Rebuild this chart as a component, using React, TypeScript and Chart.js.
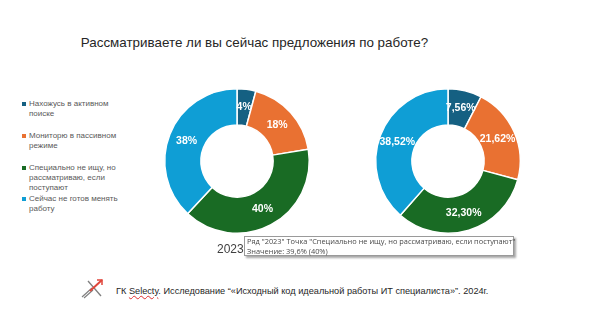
import React, { useEffect, useRef } from "react";
import { Chart, registerables } from "chart.js";

Chart.register(...registerables);

const title = "Рассматриваете ли вы сейчас предложения по работе?";
const categories = [
  "Нахожусь в активном поиске",
  "Мониторю в пассивном режиме",
  "Специально не ищу, но рассматриваю, если поступают",
  "Сейчас не готов менять работу",
];
const legendLines = [
  ["Нахожусь в активном", "поиске"],
  ["Мониторю в пассивном", "режиме"],
  ["Специально не ищу, но", "рассматриваю, если", "поступают"],
  ["Сейчас не готов менять", "работу"],
];
const colors = ["#156082", "#E97132", "#196B24", "#0F9ED5"];
const years = ["2023", "2024"];
const values2023 = [4.2, 18.2, 39.6, 38.0];
const values2024 = [7.56, 21.62, 32.3, 38.52];
const tooltipLines = [
  'Ряд "2023" Точка "Специально не ищу, но рассматриваю, если поступают"',
  "Значение: 39,6% (40%)",
];
const footerPrefix = "ГК ";
const footerBrand = "Selecty";
const footerRest = ". Исследование “«Исходный код идеальной работы ИТ специалиста»”. 2024г.";

function makeLabelPlugin(format: (v: number) => string) {
  return {
    id: "sliceLabels",
    afterDatasetsDraw(chart: any) {
      const ctx = chart.ctx;
      chart.data.datasets.forEach((ds: any, di: number) => {
        const meta = chart.getDatasetMeta(di);
        meta.data.forEach((arc: any, i: number) => {
          const p = arc.tooltipPosition();
          ctx.save();
          ctx.fillStyle = "#ffffff";
          ctx.font = "bold 10.5px 'Liberation Sans', Arial, sans-serif";
          ctx.textAlign = "center";
          ctx.textBaseline = "middle";
          ctx.fillText(format(ds.data[i]), p.x, p.y);
          ctx.restore();
        });
      });
    },
  };
}

function Donut({ values, left, top, format }: any) {
  const ref = useRef<HTMLCanvasElement>(null);
  useEffect(() => {
    const chart = new Chart(ref.current as HTMLCanvasElement, {
      type: "doughnut",
      data: {
        labels: categories,
        datasets: [
          {
            data: values,
            backgroundColor: colors,
            borderColor: "#ffffff",
            borderWidth: 1.5,
          },
        ],
      },
      options: {
        responsive: false,
        animation: false,
        cutout: "50%",
        layout: { padding: 12 },
        events: [],
        plugins: {
          legend: { display: false },
          tooltip: { enabled: false },
        },
      },
      plugins: [makeLabelPlugin(format)],
    });
    return () => chart.destroy();
  }, []);
  return (
    <canvas
      ref={ref}
      width={170}
      height={170}
      style={{ position: "absolute", left, top, width: 170, height: 170 }}
    />
  );
}

const fmt2023 = (v: number) => Math.round(v) + "%";
const fmt2024 = (v: number) => v.toFixed(2).replace(".", ",") + "%";

export default function App() {
  const legendTops = [99, 131, 163, 194];
  return (
    <div
      style={{
        position: "absolute",
        left: 0,
        top: 0,
        width: 602,
        height: 331,
        background: "#ffffff",
        overflow: "hidden",
        fontFamily: "'Liberation Sans', Arial, sans-serif",
      }}
    >
      <div
        style={{
          position: "absolute",
          left: 0,
          width: 509,
          textAlign: "center",
          top: 35,
          fontSize: 13.4,
          lineHeight: "16px",
          color: "#262626",
          whiteSpace: "nowrap",
        }}
      >
        {title}
      </div>

      {legendLines.map((lines, i) => (
        <div key={i} style={{ position: "absolute", left: 22, top: legendTops[i] }}>
          <div
            style={{
              position: "absolute",
              left: 0,
              top: 3,
              width: 4,
              height: 4,
              background: colors[i],
            }}
          />
          <div
            style={{
              position: "absolute",
              left: 7,
              top: 0,
              fontSize: 8,
              lineHeight: "10px",
              color: "#595959",
              whiteSpace: "nowrap",
            }}
          >
            {lines.map((l, j) => (
              <div key={j}>{l}</div>
            ))}
          </div>
        </div>
      ))}

      <Donut values={values2023} left={152} top={76} format={fmt2023} />
      <Donut values={values2024} left={363} top={76} format={fmt2024} />

      <div
        style={{
          position: "absolute",
          left: 217,
          top: 242,
          fontSize: 12,
          lineHeight: "14px",
          color: "#404040",
        }}
      >
        {years[0]}
      </div>
      <div
        style={{
          position: "absolute",
          left: 433,
          top: 242,
          fontSize: 12,
          lineHeight: "14px",
          color: "#404040",
        }}
      >
        {years[1]}
      </div>

      <div
        style={{
          position: "absolute",
          left: 244,
          top: 236,
          width: 270,
          height: 20,
          background: "#ffffff",
          border: "1px solid #9a9a9a",
          boxShadow: "2px 2px 2px rgba(0,0,0,0.35)",
          fontFamily: "'Open Sans', 'DejaVu Sans', sans-serif",
          fontSize: 7.4,
          lineHeight: "9.5px",
          color: "#4a4a4a",
          padding: "0 0 0 2px",
          whiteSpace: "nowrap",
          boxSizing: "border-box",
        }}
      >
        {tooltipLines.map((l, i) => (
          <div key={i}>{l}</div>
        ))}
      </div>

      <svg
        width={26}
        height={22}
        style={{ position: "absolute", left: 79, top: 277 }}
        viewBox="0 0 26 22"
      >
        <line x1={3} y1={20} x2={13} y2={11} stroke="#7f7f7f" strokeWidth={1.2} />
        <line x1={5} y1={21} x2={14} y2={13} stroke="#7f7f7f" strokeWidth={1.2} />
        <line x1={9} y1={4} x2={22} y2={19} stroke="#7f7f7f" strokeWidth={1.3} />
        <line x1={11} y1={14} x2={23} y2={3} stroke="#e0463b" strokeWidth={2} />
        <polyline points="18,3 23,3 23,8" fill="none" stroke="#e0463b" strokeWidth={1.5} />
      </svg>

      <div
        style={{
          position: "absolute",
          left: 116,
          top: 285,
          fontSize: 9.2,
          lineHeight: "12px",
          color: "#262626",
          whiteSpace: "nowrap",
        }}
      >
        {footerPrefix}
        <span
          style={{
            textDecorationLine: "underline",
            textDecorationStyle: "wavy",
            textDecorationColor: "#e03030",
          }}
        >
          {footerBrand}
        </span>
        {footerRest}
      </div>
    </div>
  );
}
